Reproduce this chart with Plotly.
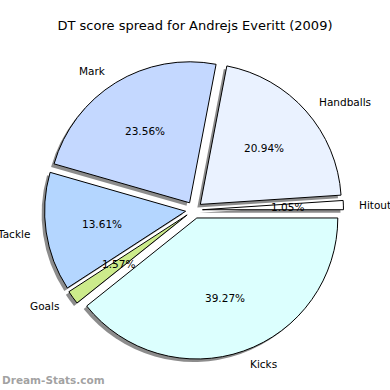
import math
import plotly.graph_objects as go

labels = ["Hitout", "Handballs", "Mark", "Tackle", "Goals", "Kicks"]
values = [2, 40, 45, 26, 3, 75]
colors = ["#ffffff", "#eaf2ff", "#c4d8ff", "#b4d6ff", "#cceb8b", "#dcfffe"]
title = "DT score spread for Andrejs Everitt (2009)"
watermark = "Dream-Stats.com"

W = H = 390
pull = 0.06
R = 141
cx, cy = 194, 210  # pixel center (from top-left)
half = R * (1 + pull)
dom_x = [(cx - half) / W, (cx + half) / W]
dom_y = [(H - cy - half) / H, (H - cy + half) / H]
sh = 3
dom_xs = [(cx - sh - half) / W, (cx - sh + half) / W]
dom_ys = [(H - cy - sh - half) / H, (H - cy - sh + half) / H]

total = sum(values)
# plotly places the first counterclockwise slice ending at `rotation`; shift so it starts at 3 o'clock
rotation = 90 - 360 * values[0] / total

font = "DejaVu Sans"
common = dict(labels=labels, values=values, sort=False, direction="counterclockwise",
              rotation=rotation, pull=[pull] * len(values), hoverinfo="skip", showlegend=False,
              textinfo="none")

fig = go.Figure()
fig.add_trace(go.Pie(**common, domain=dict(x=dom_xs, y=dom_ys),
                     marker=dict(colors=["rgba(0,0,0,0.45)"] * len(values), line=dict(width=0))))
fig.add_trace(go.Pie(**common, domain=dict(x=dom_x, y=dom_y),
                     marker=dict(colors=colors, line=dict(color="black", width=1))))

# text placed like matplotlib: label at 1.1 r, percent at 0.6 r (plus explode offset)
annotations = []
start = 0.0
for lab, v in zip(labels, values):
    frac = v / total
    mid = math.radians((start + frac / 2) * 360)
    start += frac
    ca, sa = math.cos(mid), math.sin(mid)
    off = pull * R
    lx = cx + (1.1 * R + off) * ca
    ly = cy - (1.1 * R + off) * sa
    px = cx + (0.6 * R + off) * ca
    py = cy - (0.6 * R + off) * sa
    annotations.append(dict(text=lab, x=lx / W, y=1 - ly / H, xref="paper", yref="paper",
                            xanchor="left" if ca > 0 else "right", yanchor="middle",
                            showarrow=False, font=dict(family=font, size=10.5, color="black")))
    annotations.append(dict(text=f"{frac * 100:.2f}%", x=px / W, y=1 - py / H,
                            xref="paper", yref="paper", xanchor="center", yanchor="middle",
                            showarrow=False, font=dict(family=font, size=10.5, color="black")))

annotations.append(dict(text=watermark, x=0, y=1 - 380 / H, xref="paper", yref="paper",
                        xanchor="left", yanchor="middle", showarrow=False,
                        font=dict(family=font, size=10.5, color="rgba(120,120,120,0.7)",
                                  weight="bold")))

fig.update_layout(
    width=W, height=H, margin=dict(l=0, r=0, t=0, b=0),
    paper_bgcolor="white", plot_bgcolor="white",
    title=dict(text=title, x=0.5, xanchor="center", y=1 - 25 / H, yanchor="middle",
               font=dict(family=font, size=13, color="black")),
    annotations=annotations,
)
fig.write_html("out.html", config={"displayModeBar": False},
               post_script="document.body.style.margin='0';")
